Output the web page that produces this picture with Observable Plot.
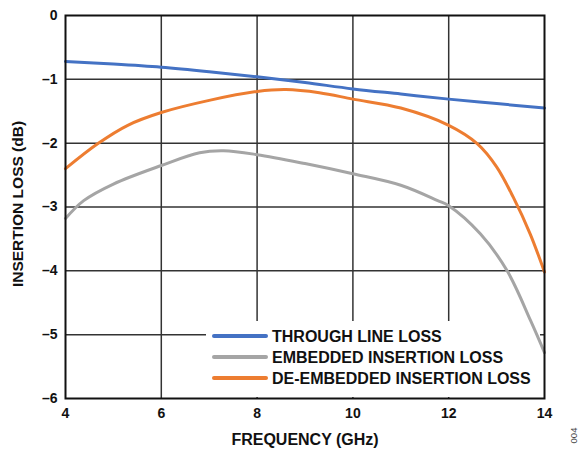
<!DOCTYPE html>
<html>
<head>
<meta charset="utf-8">
<script src="https://cdn.jsdelivr.net/npm/d3@7"></script>
<script src="https://cdn.jsdelivr.net/npm/@observablehq/plot@0.6"></script>
<style>
  body { margin: 0; background: #fff; }
  #chart { position: relative; width: 579px; height: 450px; }
</style>
</head>
<body>
<div id="chart"></div>
<script>
// ---- data ----
const throughFreq = [4, 5, 6, 7, 8, 9, 10, 11, 12, 13, 14];
const throughLoss = [-0.72, -0.76, -0.81, -0.88, -0.96, -1.05, -1.15, -1.23, -1.31, -1.38, -1.45];

const embeddedFreq = [4, 4.38, 5, 6, 6.8, 7.3, 8, 9, 10, 11, 11.77, 12, 12.66, 13.22, 13.71, 14];
const embeddedLoss = [-3.18, -2.9, -2.64, -2.35, -2.15, -2.12, -2.18, -2.32, -2.48, -2.66, -2.9, -2.98, -3.42, -4.0, -4.78, -5.28];

const deembFreq = [4, 4.67, 5.3, 6, 7, 8, 8.6, 9.3, 10, 11, 12, 12.6, 13, 13.35, 13.7, 14];
const deembLoss = [-2.40, -2.01, -1.72, -1.52, -1.33, -1.19, -1.16, -1.21, -1.31, -1.45, -1.72, -2.01, -2.37, -2.85, -3.42, -4.02];

const seriesNames = ["THROUGH LINE LOSS", "EMBEDDED INSERTION LOSS", "DE-EMBEDDED INSERTION LOSS"];
const seriesColors = ["#4472c4", "#a5a5a5", "#ed7d31"];

const xTicks = [4, 6, 8, 10, 12, 14];
const yTicks = [-6, -5, -4, -3, -2, -1, 0];

const toRows = (fs, vs, name) => fs.map((f, i) => ({freq: f, loss: vs[i], series: name}));
const through = toRows(throughFreq, throughLoss, seriesNames[0]);
const embedded = toRows(embeddedFreq, embeddedLoss, seriesNames[1]);
const deemb = toRows(deembFreq, deembLoss, seriesNames[2]);

const font = "'Liberation Sans', Arial, Helvetica, sans-serif";
const fmtY = d => d === 0 ? "0" : "\u2013" + Math.abs(d);
const centered = {textAnchor: "middle", lineAnchor: "middle"};

const svg = Plot.plot({
  width: 579,
  height: 450,
  marginLeft: 65,
  marginRight: 35,
  marginTop: 15,
  marginBottom: 52,
  style: {fontFamily: font, fontSize: "14px", fontWeight: "bold", color: "#111", background: "#fff"},
  x: {domain: [4, 14]},
  y: {domain: [-6, 0]},
  marks: [
    Plot.gridX(xTicks.slice(1, -1), {stroke: "#333", strokeOpacity: 1, strokeWidth: 1.5}),
    Plot.gridY(yTicks.slice(1, -1), {stroke: "#333", strokeOpacity: 1, strokeWidth: 1.5}),
    Plot.axisX(xTicks, {tickSize: 0, tickPadding: 10, label: null, fill: "#111"}),
    Plot.axisY(yTicks, {tickSize: 0, tickPadding: 8, label: null, fill: "#111", tickFormat: fmtY}),
    Plot.line(embedded, {x: "freq", y: "loss", stroke: seriesColors[1], strokeWidth: 3, curve: "catmull-rom"}),
    Plot.line(deemb, {x: "freq", y: "loss", stroke: seriesColors[2], strokeWidth: 3, curve: "catmull-rom"}),
    Plot.line(through, {x: "freq", y: "loss", stroke: seriesColors[0], strokeWidth: 3, curve: "catmull-rom"}),
    Plot.frame({stroke: "#111", strokeWidth: 2}),
    Plot.text(["INSERTION LOSS (dB)"], {text: d => d, ...centered, frameAnchor: "left", dx: -47, dy: -3, rotate: -90, fontSize: 15.5, fontWeight: "bold", fill: "#111"}),
    Plot.text(["FREQUENCY (GHz)"], {text: d => d, ...centered, frameAnchor: "bottom", dy: 41, fontSize: 16, fontWeight: "bold", fill: "#111"}),
    Plot.text(["004"], {text: d => d, ...centered, frameAnchor: "bottom-right", dx: 29, dy: 37, rotate: -90, fontSize: 9.5, fontWeight: "normal", fill: "#444"})
  ]
});

// ---- legend (white box over gridlines, beneath the curves) ----
const sel = d3.select(svg);
const firstLine = svg.querySelector('g[aria-label="line"]');
const box = document.createElementNS("http://www.w3.org/2000/svg", "rect");
svg.insertBefore(box, firstLine);
d3.select(box).attr("x", 206).attr("y", 321).attr("width", 334).attr("height", 76).attr("fill", "#fff");

const lg = sel.append("g").attr("class", "legend").attr("text-anchor", "start");
const rowY = [336, 357, 378];
seriesNames.forEach((name, i) => {
  lg.append("line").attr("x1", 214).attr("x2", 266).attr("y1", rowY[i]).attr("y2", rowY[i])
    .attr("stroke", seriesColors[i]).attr("stroke-width", 4).attr("stroke-linecap", "round");
  lg.append("text").attr("x", 272).attr("y", rowY[i]).attr("dy", "0.35em")
    .attr("text-anchor", "start")
    .attr("font-family", font).attr("font-size", 16).attr("font-weight", "bold").attr("fill", "#111")
    .text(name);
});

document.getElementById("chart").appendChild(svg);
</script>
</body>
</html>
